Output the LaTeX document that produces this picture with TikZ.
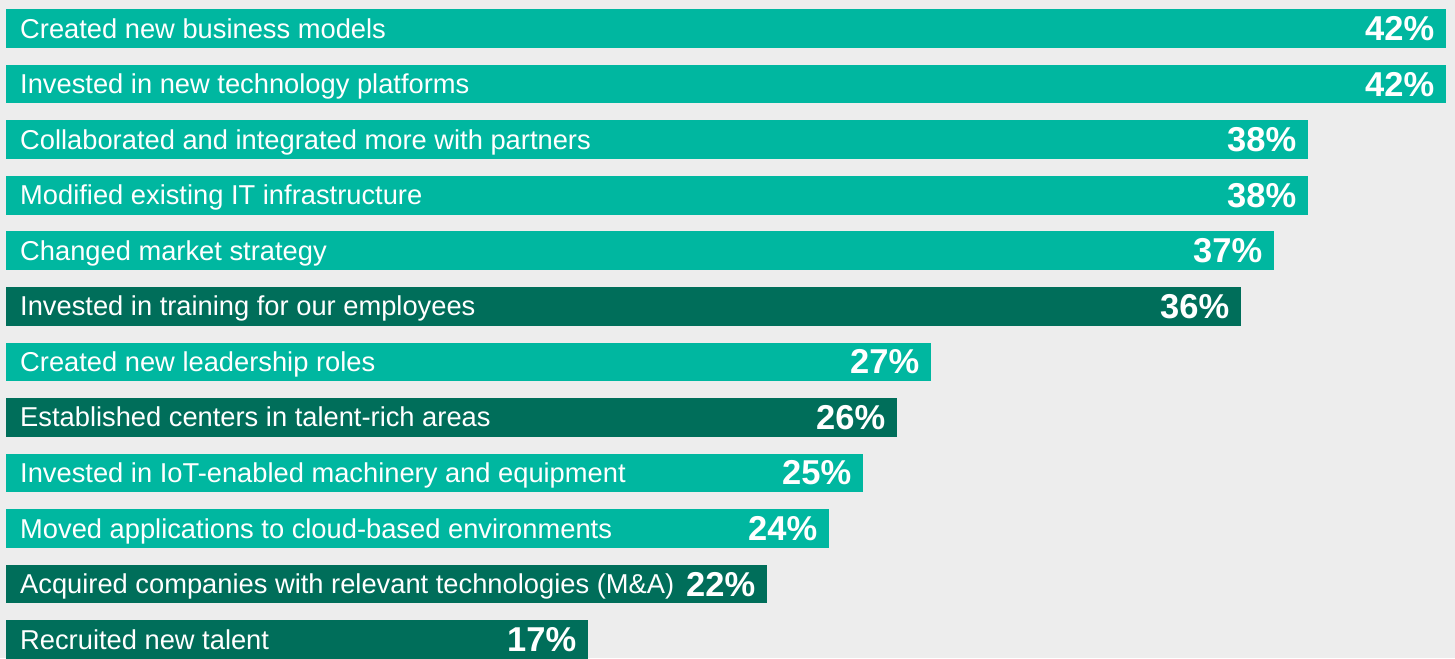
\documentclass[tikz,border=0pt]{standalone}
\usepackage{fontspec}
\setmainfont{Liberation Sans}
\definecolor{bgc}{HTML}{EDEDED}
\definecolor{lteal}{HTML}{00B7A0}
\definecolor{dteal}{HTML}{006E5A}
\begin{document}
\begin{tikzpicture}[x=1pt,y=-1pt,
  barbox/.style={anchor=north west, inner sep=0pt, minimum height=38.7pt, draw=none},
  lab/.style={anchor=base west, inner sep=0pt, text=white, font=\fontsize{27.3}{32}\selectfont},
  pct/.style={anchor=base east, inner sep=0pt, text=white, font=\fontsize{34.5}{40}\selectfont\bfseries}]
\fill[bgc] (0,0) rectangle (1455,658);
\useasboundingbox (0,0) rectangle (1455,658);
\foreach \i/\r/\c/\t/\p in {
  0/1446/lteal/{Created new business models}/42,
  1/1446/lteal/{Invested in new technology platforms}/42,
  2/1308/lteal/{Collaborated and integrated more with partners}/38,
  3/1308/lteal/{Modified existing IT infrastructure}/38,
  4/1274/lteal/{Changed market strategy}/37,
  5/1241/dteal/{Invested in training for our employees}/36,
  6/931/lteal/{Created new leadership roles}/27,
  7/897/dteal/{Established centers in talent-rich areas}/26,
  8/863/lteal/{Invested in IoT-enabled machinery and equipment}/25,
  9/829/lteal/{Moved applications to cloud-based environments}/24,
  10/767/dteal/{Acquired companies with relevant technologies (M\&A)}/22,
  11/588/dteal/{Recruited new talent}/17}{
  \pgfmathsetmacro\tp{9+55.55*\i}
  \pgfmathsetmacro\w{\r-6}
  \node[barbox, fill=\c, minimum width=\w pt] (bar\i) at (6,\tp) {};
  \node[lab] (lab\i) at ([shift={(14,9.5)}]bar\i.west) {\t};
  \node[pct] (pct\i) at ([shift={(-12,12)}]bar\i.east) {\p\%};
}
\end{tikzpicture}
\end{document}
